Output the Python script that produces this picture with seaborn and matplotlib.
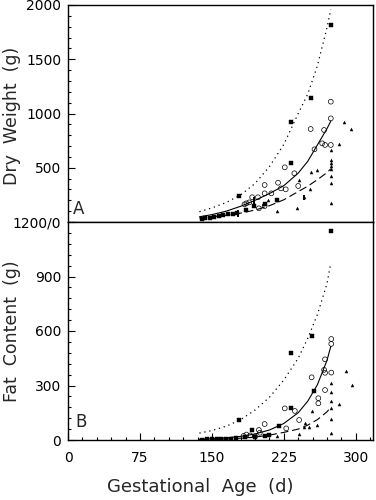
import numpy as np
import pandas as pd
import matplotlib
matplotlib.use('Agg')
from matplotlib import pyplot as plt
from matplotlib.ticker import MultipleLocator
import seaborn as sns

# ==================== 数据 ====================
# 拟合曲线取点 (胎龄, 天)
curve_age = [137, 150, 165, 180, 195, 210, 225, 240, 250, 260, 270, 274]

# A: 干重 (g)
dry_dotted = [95, 130, 180, 250, 355, 510, 715, 1000, 1180, 1440, 1790, 1960]
dry_solid = [48, 68, 100, 145, 200, 262, 335, 450, 560, 710, 860, 930]
dry_dashed = [36, 48, 62, 82, 110, 150, 205, 280, 330, 390, 455, 490]

dry_sq_age = [274, 253, 233, 233, 178, 140, 143, 148, 152, 157, 162, 167, 172, 176, 186, 194, 205, 218]
dry_sq_val = [1815, 1140, 919, 541, 240, 25, 35, 40, 45, 55, 60, 70, 75, 85, 110, 150, 165, 200]

dry_circ_age = [274, 274, 253, 267, 265, 268, 274, 257, 226, 236, 205, 219, 222, 227, 240,
                212, 205, 198, 192, 186, 205, 199, 184, 189]
dry_circ_val = [1109, 955, 857, 848, 725, 710, 710, 670, 504, 449, 341, 362, 310, 301, 332,
                264, 264, 228, 228, 172, 147, 126, 163, 181]

dry_tri_age = [288, 295, 283, 274, 274, 274, 274, 274, 274, 274, 274, 260, 253, 252, 246,
               241, 239, 218, 218, 209, 203]
dry_tri_val = [924, 857, 716, 663, 571, 541, 516, 486, 424, 362, 178, 479, 458, 301, 228,
               387, 132, 203, 101, 203, 163]

dry_bar_age = [177, 194, 218, 246]
dry_bar_mid = [80, 180, 200, 228]
dry_bar_half = [30, 50, 18, 22]

# B: 脂肪含量 (g)
fat_dotted = [38, 52, 76, 112, 165, 235, 330, 450, 560, 690, 860, 975]
fat_solid = [4, 7, 12, 20, 33, 55, 91, 150, 214, 304, 438, 515]
fat_dashed = [2, 4, 6, 10, 16, 27, 42, 60, 82, 112, 155, 180]

fat_sq_age = [274.5, 254, 233, 233, 178, 192, 220, 257, 140, 145, 150, 155, 160, 165, 170,
              175, 185, 195, 205, 210]
fat_sq_val = [1151, 575, 481, 178, 110, 55, 77, 272, 2, 3, 4, 5, 6, 8, 8,
              10, 14, 18, 22, 30]

fat_circ_age = [274.5, 274.5, 268, 267, 268, 274.5, 254, 268, 261, 261, 226, 236.5, 241,
                205, 227.5, 199, 186, 190, 195, 183, 200]
fat_circ_val = [556, 529, 444, 386, 370, 371, 345, 275, 230, 202, 174, 160, 110,
                88, 64, 55, 30, 25, 20, 22, 40]

fat_tri_age = [290, 296, 283, 254.5, 247, 251, 246, 241, 274.5, 274.5, 274.5, 274.5, 274.5,
               274.5, 260, 218]
fat_tri_val = [380, 303, 196, 162, 92, 70, 70, 33, 316, 266, 217, 174, 114,
               37, 85, 20]

# ==================== 样式 ====================
sns.set_style('ticks')
plt.rcParams['font.family'] = ['DejaVu Sans']

fig = plt.figure(figsize=(3.76, 5), dpi=100)
ax1 = fig.add_axes([0.181, 0.556, 0.811, 0.434])
ax2 = fig.add_axes([0.181, 0.12, 0.811, 0.436])


def draw_panel(ax, dotted, solid, dashed, sq_x, sq_y, c_x, c_y, t_x, t_y):
    sns.lineplot(x=curve_age, y=dotted, ax=ax, color='black', lw=0.9,
                 linestyle=(0, (1, 3)))
    sns.lineplot(x=curve_age, y=solid, ax=ax, color='black', lw=0.8)
    sns.lineplot(x=curve_age, y=dashed, ax=ax, color='black', lw=0.8,
                 linestyle=(0, (7, 3.5)))
    sns.scatterplot(x=sq_x, y=sq_y, ax=ax, marker='s', s=9, color='black',
                    edgecolor='black', linewidth=0.3)
    sns.scatterplot(x=c_x, y=c_y, ax=ax, marker='o', s=12, facecolor='none',
                    edgecolor='black', linewidth=0.5)
    sns.scatterplot(x=t_x, y=t_y, ax=ax, marker='^', s=5, color='black',
                    edgecolor='black', linewidth=0.2)


draw_panel(ax1, dry_dotted, dry_solid, dry_dashed, dry_sq_age, dry_sq_val,
           dry_circ_age, dry_circ_val, dry_tri_age, dry_tri_val)
ax1.errorbar(dry_bar_age, dry_bar_mid, yerr=dry_bar_half, fmt='none',
             ecolor='black', elinewidth=1.4, capsize=0)

draw_panel(ax2, fat_dotted, fat_solid, fat_dashed, fat_sq_age, fat_sq_val,
           fat_circ_age, fat_circ_val, fat_tri_age, fat_tri_val)

# ==================== 坐标轴 ====================
for ax in (ax1, ax2):
    ax.set_xlim(0, 318)
    for sp in ax.spines.values():
        sp.set_visible(True)
        sp.set_linewidth(1.0)
        sp.set_color('black')
    ax.tick_params(which='both', direction='in', left=True, right=False, top=False,
                   colors='black', labelsize=10, width=0.8)
    ax.tick_params(which='major', length=5, pad=5)
    ax.tick_params(which='minor', length=2.5)

ax1.set_ylim(0, 2000)
ax1.set_yticks([0, 500, 1000, 1500, 2000])
ax1.set_yticklabels(['', '500', '1000', '1500', '2000'])
ax1.yaxis.set_minor_locator(MultipleLocator(100))
ax1.tick_params(which='both', bottom=False, labelbottom=False)
ax1.set_ylabel('Dry  Weight  (g)', fontsize=12.5)
ax1.yaxis.set_label_coords(-0.155, 0.49)
ax1.text(5, 40, 'A', fontsize=12, va='bottom', ha='left')

ax2.set_ylim(0, 1200)
ax2.set_yticks([0, 300, 600, 900, 1200])
ax2.set_yticklabels(['0', '300', '600', '900', '1200/0'])
ax2.yaxis.set_minor_locator(MultipleLocator(60))
ax2.set_xticks([0, 75, 150, 225, 300])
ax2.xaxis.set_minor_locator(MultipleLocator(15))
ax2.tick_params(axis='x', which='major', pad=8)
ax2.set_ylabel('Fat  Content  (g)', fontsize=12.5)
ax2.yaxis.set_label_coords(-0.155, 0.5)
ax2.set_xlabel('Gestational  Age  (d)', fontsize=13)
ax2.xaxis.set_label_coords(0.433, -0.175)
ax2.text(8, 50, 'B', fontsize=12, va='bottom', ha='left')

plt.savefig('out.png', dpi=100)
